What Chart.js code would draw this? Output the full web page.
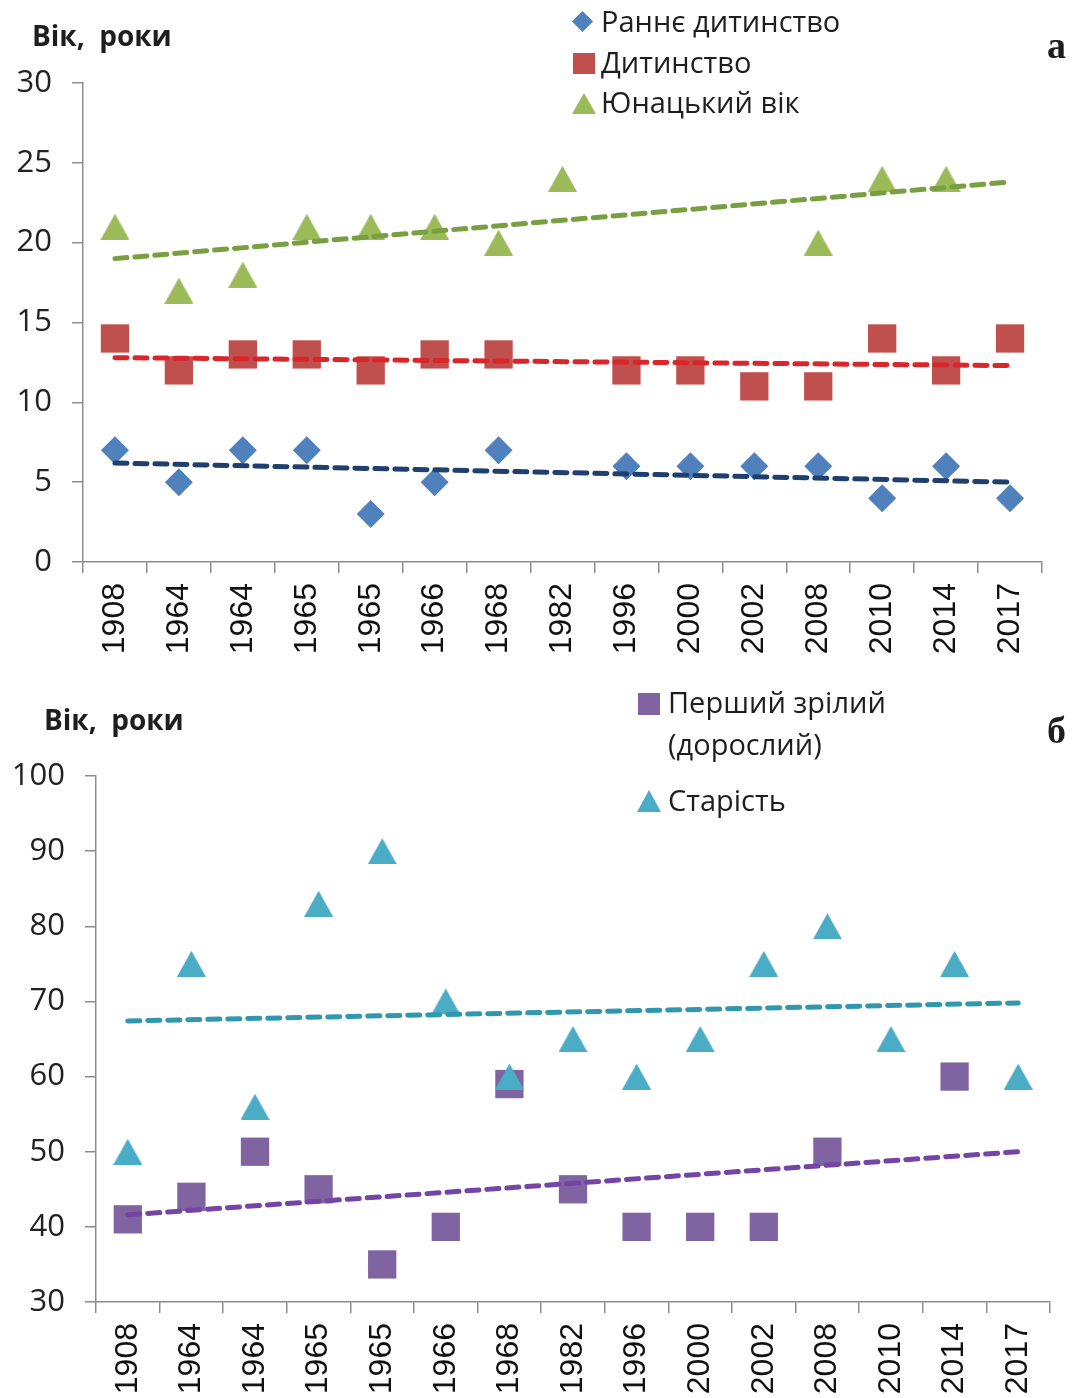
<!DOCTYPE html>
<html>
<head>
<meta charset="utf-8">
<script src="https://cdn.jsdelivr.net/npm/chart.js@4.4.1/dist/chart.umd.min.js"></script>
<style>
  body { margin: 0; background: #fff; width: 1076px; height: 1398px; position: relative; overflow: hidden; font-family: "Open Sans", sans-serif; color: #1e1e1e; }
  canvas { position: absolute; left: 0; }
  .txt { position: absolute; white-space: nowrap; font-size: 29px; line-height: 1; }
  .title { font-weight: bold; font-size: 28px; }
  .letter { font-family: "Liberation Serif", serif; font-weight: bold; font-size: 38px; }
  .mk { position: absolute; }
</style>
</head>
<body>
<canvas id="chartA" width="1076" height="665" style="top:0"></canvas>
<canvas id="chartB" width="1076" height="718" style="top:680px"></canvas>

<div class="txt title" style="left:32px; top:21px;">Вік,&nbsp; роки</div>
<div class="txt letter" style="left:1047px; top:26px;">а</div>

<div class="mk" style="left:575px; top:14px; width:15px; height:15px; background:#4f81bd; transform:rotate(45deg);"></div>
<div class="txt" style="left:601px; top:6px;">Раннє дитинство</div>
<div class="mk" style="left:573px; top:53px; width:22px; height:21px; background:#c0504d;"></div>
<div class="txt" style="left:601px; top:47px;">Дитинство</div>
<div class="mk" style="left:572px; top:93px; width:0; height:0; border-left:12px solid transparent; border-right:12px solid transparent; border-bottom:21px solid #9bbb59;"></div>
<div class="txt" style="left:601px; top:87px;">Юнацький вік</div>

<div class="txt title" style="left:44px; top:705px;">Вік,&nbsp; роки</div>
<div class="txt letter" style="left:1047px; top:711px;">б</div>

<div class="mk" style="left:638px; top:693px; width:22px; height:22px; background:#8064a2;"></div>
<div class="txt" style="left:668px; top:687px;">Перший зрілий</div>
<div class="txt" style="left:668px; top:729px;">(дорослий)</div>
<div class="mk" style="left:637px; top:790px; width:0; height:0; border-left:12px solid transparent; border-right:12px solid transparent; border-bottom:22px solid #4bacc6;"></div>
<div class="txt" style="left:668px; top:785px;">Старість</div>

<script>
// categories (years of the sources)
const years = ['1908', '1964', '1964', '1965', '1965', '1966', '1968', '1982', '1996', '2000', '2002', '2008', '2010', '2014', '2017'];

// chart а: age boundaries, years
const earlyChildhood = [7, 5, 7, 7, 3, 5, 7, null, 6, 6, 6, 6, 4, 6, 4];
const childhood = [14, 12, 13, 13, 12, 13, 13, null, 12, 12, 11, 11, 14, 12, 14];
const youth = [21, 17, 18, 21, 21, 21, 20, 24, null, null, null, 20, 24, 24, null];

// chart б
const firstMature = [41, 44, 50, 45, 35, 40, 59, 45, 40, 40, 40, 50, null, 60, null];
const oldAge = [50, 75, 56, 83, 90, 70, 60, 65, 60, 65, 75, 80, 65, 75, 60];

// linear trend lines: value at first and at last category
const earlyTrend = [6.2, 5.0];
const childhoodTrend = [12.8, 12.3];
const youthTrend = [19.0, 23.8];
const matureTrend = [41.6, 50.0];
const oldTrend = [67.4, 69.8];

const yTicksA = [0, 5, 10, 15, 20, 25, 30];
const yTicksB = [30, 40, 50, 60, 70, 80, 90, 100];

const axisColor = '#8c8c8c';

// trend line only has its two end points, the rest is spanned
function trend(ends) {
    const d = years.map(() => null);
    d[0] = ends[0];
    d[d.length - 1] = ends[1];
    return d;
}

// triangle centred on its box, like the excel marker
function triangleImg(color) {
    const c = document.createElement('canvas');
    c.width = 29;
    c.height = 26;
    const g = c.getContext('2d');
    g.fillStyle = color;
    g.beginPath();
    g.moveTo(0, 26);
    g.lineTo(14.5, 0);
    g.lineTo(29, 26);
    g.closePath();
    g.fill();
    return c;
}

function markers(data, style, radius, color, order) {
    return {
        data: data,
        showLine: false,
        pointStyle: style,
        pointRadius: radius,
        pointHoverRadius: radius,
        pointBackgroundColor: color,
        pointBorderColor: color,
        pointBorderWidth: 0,
        order: order
    };
}

function trendLine(ends, color) {
    return {
        data: trend(ends),
        spanGaps: true,
        borderColor: color,
        borderWidth: 5,
        borderDash: [12, 8],
        borderCapStyle: 'round',
        pointRadius: 0,
        order: 1
    };
}

function makeChart(id, datasets, yTicks, box) {
    const ctx = document.getElementById(id).getContext('2d');
    return new Chart(ctx, {
        type: 'line',
        data: { labels: years, datasets: datasets },
        options: {
            responsive: false,
            animation: false,
            layout: { padding: { left: 0, top: box.top, right: box.right, bottom: 0 } },
            scales: {
                x: {
                    offset: true,
                    grid: { offset: true, drawOnChartArea: false, drawTicks: true, tickLength: 11, color: axisColor, lineWidth: 1.5 },
                    border: { color: axisColor, width: 1.5 },
                    ticks: {
                        autoSkip: false,
                        minRotation: 90,
                        maxRotation: 90,
                        padding: 10,
                        color: '#111',
                        font: { family: 'Liberation Sans', size: 32 }
                    },
                    afterFit: s => { s.height = box.xh; }
                },
                y: {
                    min: yTicks[0],
                    max: yTicks[yTicks.length - 1],
                    afterBuildTicks: s => { s.ticks = yTicks.map(v => ({ value: v })); },
                    grid: { drawOnChartArea: false, drawTicks: true, tickLength: 11, color: axisColor, lineWidth: 1.5 },
                    border: { color: axisColor, width: 1.5 },
                    ticks: {
                        padding: 20,
                        color: '#222',
                        font: { family: 'Open Sans', size: 31 }
                    },
                    afterFit: s => { s.width = box.left; }
                }
            },
            plugins: {
                legend: { display: false },
                tooltip: { enabled: false }
            }
        }
    });
}

makeChart('chartA', [
    trendLine(earlyTrend, '#1f3f6f'),
    trendLine(childhoodTrend, '#d9262b'),
    trendLine(youthTrend, '#78a040'),
    markers(earlyChildhood, 'rectRot', 14, '#4f81bd', 2),
    markers(childhood, 'rect', 20, '#c0504d', 2),
    markers(youth, triangleImg('#9bbb59'), 14, '#9bbb59', 2)
], yTicksA, { left: 83, top: 83, right: 34, xh: 103 });

makeChart('chartB', [
    trendLine(matureTrend, '#7444a6'),
    trendLine(oldTrend, '#2f97ae'),
    markers(firstMature, 'rect', 20, '#8064a2', 3),
    markers(oldAge, triangleImg('#4bacc6'), 14, '#4bacc6', 2)
], yTicksB, { left: 96, top: 96, right: 26, xh: 96 });
</script>
</body>
</html>
